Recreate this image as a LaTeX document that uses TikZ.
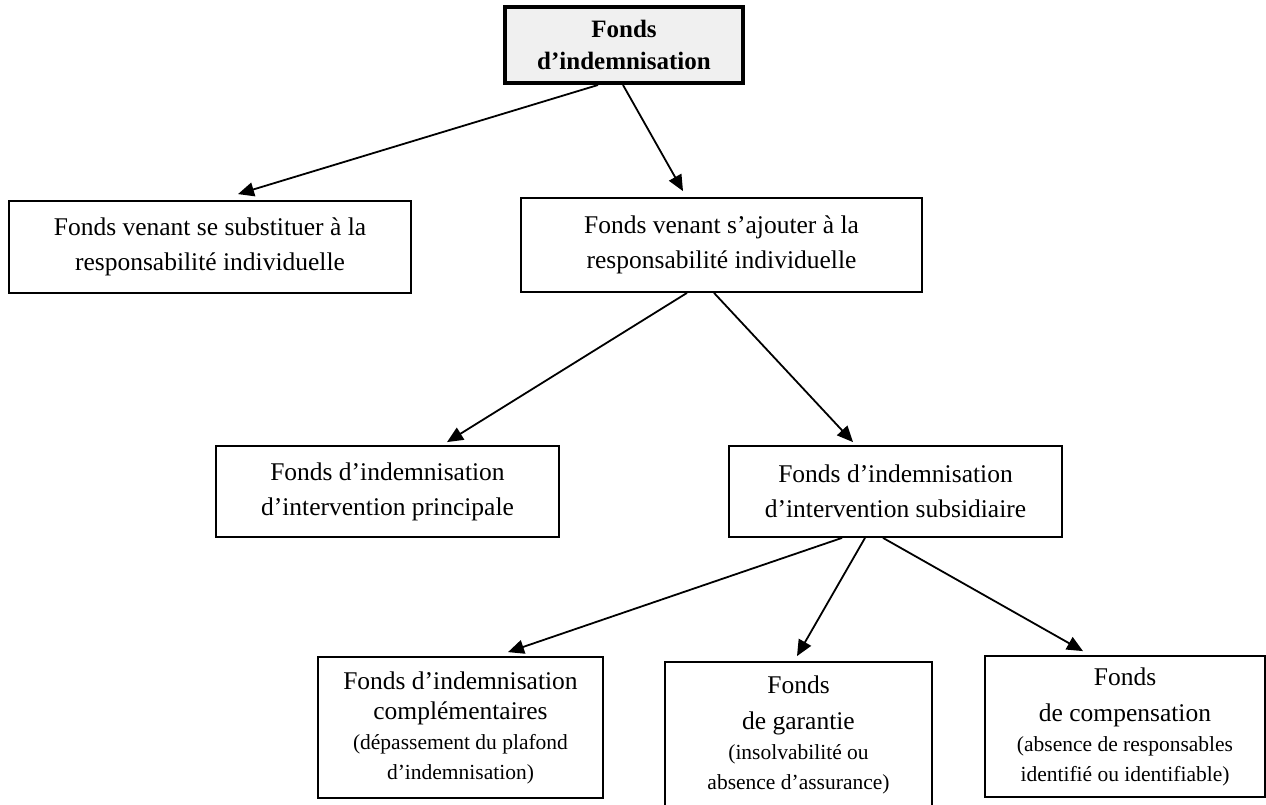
\documentclass[tikz,border=0pt]{standalone}
\usepackage{fontspec}
\setmainfont{Liberation Serif}
\usetikzlibrary{arrows.meta}
\newcommand\szmain{\fontsize{25.5}{35}\selectfont}
\newcommand\sztop{\fontsize{25}{32}\selectfont\bfseries}
\newcommand\szbot{\fontsize{25.5}{30}\selectfont}
\newcommand\szsmall{\fontsize{21.5}{28}\selectfont}
\begin{document}
\begin{tikzpicture}[x=1pt,y=-1pt,
  box/.style={draw, line width=1.8pt, align=center, inner sep=0pt},
  arr/.style={line width=1.8pt, -{Triangle[length=16pt,width=14pt]}}]
\path[use as bounding box, clip] (0,0) rectangle (1266,805);
\fill[white] (0,0) rectangle (1266,805);
% boxes
\node[box, line width=4pt, fill=black!6, minimum width=238pt, minimum height=76pt, font=\sztop] (top) at (624,45) {Fonds\\d’indemnisation};
\node[box, minimum width=402pt, minimum height=92pt, font=\szmain] (L1) at (210,247) {Fonds venant se substituer à la\\responsabilité individuelle};
\node[box, minimum width=401pt, minimum height=94pt, font=\szmain] (R1) at (721.5,245) {Fonds venant s’ajouter à la\\responsabilité individuelle};
\node[box, minimum width=343pt, minimum height=91pt, font=\szmain] (P) at (387.5,491.5) {Fonds d’indemnisation\\d’intervention principale};
\node[box, minimum width=333pt, minimum height=91pt, font=\szmain] (S) at (895.5,491.5) {Fonds d’indemnisation\\d’intervention subsidiaire};
\node[box, minimum width=285pt, minimum height=141pt, font=\szbot] (C) at (460.5,727.5) {Fonds d’indemnisation\\complémentaires\\\szsmall (dépassement du plafond\\\szsmall d’indemnisation)};
\node[box, minimum width=267pt, minimum height=145pt, font=\szbot] (G) at (798.5,734.5) {Fonds\\[6pt]de garantie\\\szsmall (insolvabilité ou\\\szsmall absence d’assurance)};
\node[box, minimum width=280pt, minimum height=141pt, font=\szbot] (K) at (1125,726.5) {Fonds\\[6pt]de compensation\\\szsmall (absence de responsables\\\szsmall identifié ou identifiable)};
% connectors
\draw[arr] ([xshift=-26pt]top.south) -- ([xshift=28pt,yshift=6pt]L1.north);
\draw[arr] ([xshift=-1pt]top.south) -- ([xshift=-38.5pt,yshift=6pt]R1.north);
\draw[arr] ([xshift=-34.5pt]R1.south) -- ([xshift=59.5pt,yshift=3pt]P.north);
\draw[arr] ([xshift=-7.5pt]R1.south) -- ([xshift=-42.5pt,yshift=3pt]S.north);
\draw[arr] ([xshift=-53.5pt]S.south) -- ([xshift=47.5pt,yshift=4pt]C.north);
\draw[arr] ([xshift=-30.5pt]S.south) -- ([xshift=-1.5pt,yshift=5pt]G.north);
\draw[arr] ([xshift=-12.5pt]S.south) -- ([xshift=-42pt,yshift=4pt]K.north);
\end{tikzpicture}
\end{document}
